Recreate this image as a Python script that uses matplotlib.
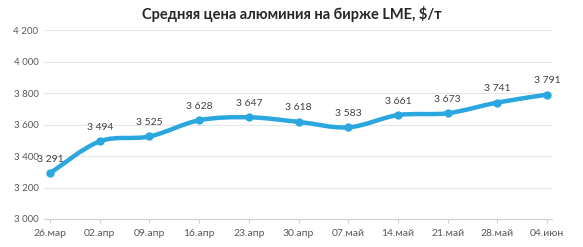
import matplotlib
matplotlib.use("Agg")
import matplotlib.pyplot as plt
from matplotlib.path import Path
from matplotlib.patches import PathPatch
from matplotlib.ticker import FuncFormatter

categories = ["26.мар", "02.апр", "09.апр", "16.апр", "23.апр", "30.апр",
              "07.май", "14.май", "21.май", "28.май", "04.июн"]
values = [3291, 3494, 3525, 3628, 3647, 3618, 3583, 3661, 3673, 3741, 3791]
title = "Средняя цена алюминия на бирже LME, $/т"

plt.rcParams['font.family'] = ['Lato', 'DejaVu Sans']

fig = plt.figure(figsize=(5.83, 2.47), dpi=100)
ax = fig.add_axes([0.0755, 0.1134, 0.8715, 0.7636])

color = "#2AA7DF"
xs = list(range(len(values)))

# smoothed line (Catmull-Rom style Bezier, like Excel's smooth line)
verts = [(xs[0], values[0])]
codes = [Path.MOVETO]
n = len(values)
for i in range(n - 1):
    p0 = (xs[i - 1], values[i - 1]) if i > 0 else (xs[i], values[i])
    p1 = (xs[i], values[i])
    p2 = (xs[i + 1], values[i + 1])
    p3 = (xs[i + 2], values[i + 2]) if i + 2 < n else p2
    c1 = (p1[0] + (p2[0] - p0[0]) / 6, p1[1] + (p2[1] - p0[1]) / 6)
    c2 = (p2[0] - (p3[0] - p1[0]) / 6, p2[1] - (p3[1] - p1[1]) / 6)
    verts += [c1, c2, p2]
    codes += [Path.CURVE4] * 3
patch = PathPatch(Path(verts, codes), facecolor='none', edgecolor=color,
                  lw=3.2, capstyle='round', joinstyle='round', zorder=3)
ax.add_patch(patch)
ax.plot(xs, values, linestyle='none', marker='o', markersize=5,
        color=color, zorder=4)

for x, v in zip(xs, values):
    ax.annotate(f"{v:,}".replace(",", " "), (x, v), xytext=(0, 10),
                textcoords='offset points', ha='center', va='center',
                fontsize=7.5, color="#404040", zorder=5)

ax.set_xlim(-0.12, 10.1)
ax.set_ylim(3000, 4200)
ax.set_yticks(range(3000, 4201, 200))
ax.yaxis.set_major_formatter(FuncFormatter(lambda v, p: f"{int(v):,}".replace(",", " ")))
ax.set_xticks(xs)
ax.set_xticklabels(categories)

ax.grid(axis='y', color="#E6E6E6", lw=0.8)
ax.set_axisbelow(True)
for s in ['top', 'right', 'left']:
    ax.spines[s].set_visible(False)
ax.spines['bottom'].set_color("#D0D0D0")
ax.spines['bottom'].set_linewidth(0.8)
ax.tick_params(axis='y', length=0, labelsize=7, labelcolor="#595959", pad=4)
ax.tick_params(axis='x', length=3, color="#D0D0D0", labelsize=7.5,
               labelcolor="#595959", pad=4)

fig.text(0.5, 0.943, title, ha='center', va='center', fontsize=10.5,
         fontweight='bold', color="#262626")

fig.savefig("out.png", dpi=100)
